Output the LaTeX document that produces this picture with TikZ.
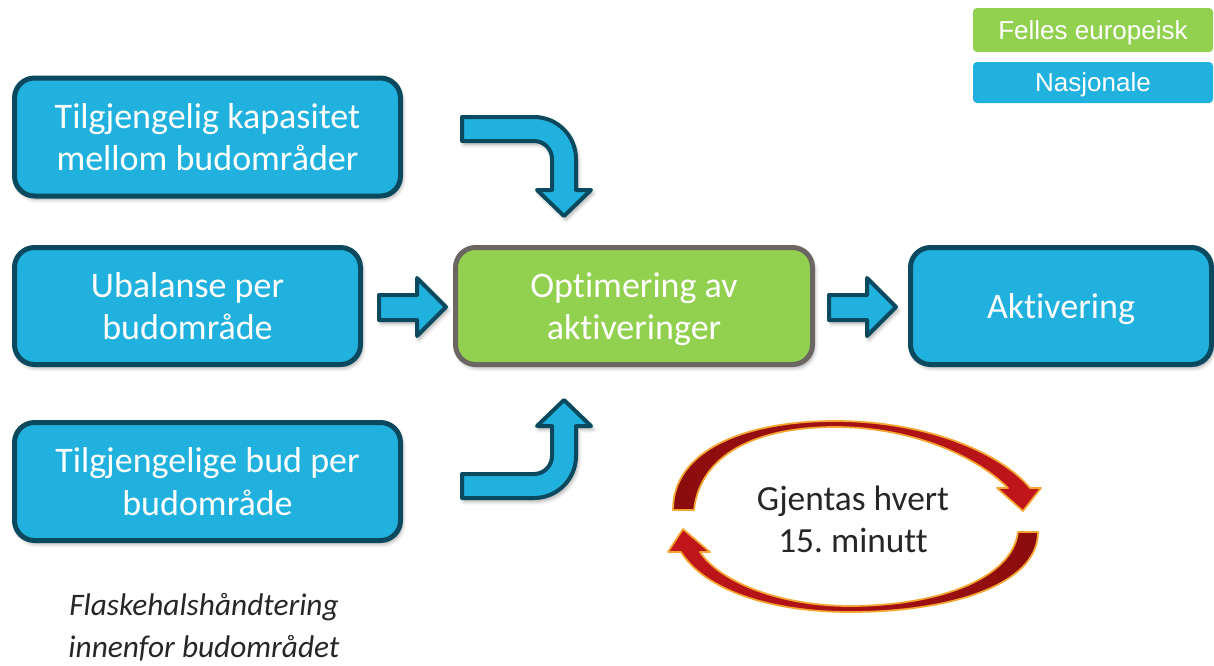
\documentclass[tikz,border=0pt]{standalone}
\usepackage{fontspec}
\setmainfont{Carlito}[Ligatures={NoCommon}]
\newfontfamily\legendfont{Liberation Sans}
\usetikzlibrary{shadows,shadows.blur}
\definecolor{boxblue}{HTML}{21B1DE}
\definecolor{boxedge}{HTML}{0B4A5E}
\definecolor{boxgreen}{HTML}{92D050}
\definecolor{greenedge}{HTML}{6B6661}
\definecolor{darkred}{HTML}{8A0C0C}
\definecolor{brightred}{HTML}{C2161B}
\definecolor{orangeedge}{HTML}{F6A531}
\definecolor{textdark}{HTML}{262626}
\newcommand\lstrut{\rule[-6.6pt]{0pt}{32pt}}
\frenchspacing
\begin{document}
\begin{tikzpicture}[x=0.75pt,y=-0.75pt,
  shadowed/.style={blur shadow={shadow xshift=1.5pt,shadow yshift=-2.5pt,shadow blur radius=3pt,shadow blur steps=6,shadow opacity=35}},
  boxfont/.style={font=\fontsize{27pt}{32pt}\selectfont},
  bluebox/.style={draw=boxedge, fill=boxblue, line width=3.75pt, rounded corners=15pt,
    text=white, align=center, boxfont, inner sep=0pt, shadowed},
  greenbox/.style={bluebox, draw=greenedge, fill=boxgreen},
  legendbox/.style={rounded corners=3pt, text=white, inner sep=0pt,
    font=\legendfont\fontsize{19.5pt}{22pt}\selectfont, minimum width=180pt,
    text height=16pt, text depth=2.5pt},
  blockarrow/.style={draw=boxedge, fill=boxblue, line width=3pt, line join=round, shadowed},
  cyclearrow/.style={draw=orangeedge, line width=1.3pt, line join=round}
]
\useasboundingbox (0,0) rectangle (1214,665);

% main boxes
\node[bluebox, minimum width=289.5pt, minimum height=88.5pt] (kap) at (207.5,137)
  {Tilgjengelig kapasitet\lstrut\\mellom budområder\lstrut};
\node[bluebox, minimum width=259.5pt, minimum height=87.75pt] (ubal) at (187.5,306)
  {Ubalanse per\lstrut\\budområde\lstrut};
\node[bluebox, minimum width=289.5pt, minimum height=88.5pt] (bud) at (207.5,481.5)
  {Tilgjengelige bud per\lstrut\\budområde\lstrut};
\node[greenbox, minimum width=267.75pt, minimum height=87.75pt] (opt) at (634,306)
  {Optimering av\lstrut\\aktiveringer\lstrut};
\node[bluebox, minimum width=225.75pt, minimum height=87.75pt] (akt) at (1061,306)
  {Aktivering\lstrut};

% legend
\node[legendbox, fill=boxgreen, minimum height=33pt] (leg1) at (1093,30) {Felles europeisk};
\node[legendbox, fill=boxblue, minimum height=30.75pt] (leg2) at (1093,82.5) {Nasjonale};

% straight block arrows
\path[blockarrow] (379,295) -- (417,295) -- (417,278) -- (446,307) -- (417,336)
  -- (417,320) -- (379,320) -- cycle;
\path[blockarrow] (829,295) -- (867,295) -- (867,278) -- (896,307) -- (867,336)
  -- (867,320) -- (829,320) -- cycle;

% bent block arrows
\path[blockarrow] (462,117) -- (534,117) arc[start angle=-90,end angle=0,radius=42]
  -- (576,190) -- (591,190) -- (564,216) -- (537,190) -- (552,190) -- (552,159)
  arc[start angle=0,end angle=-90,radius=18] -- (462,141) -- cycle;
\path[blockarrow] (462,474) -- (534,474) arc[start angle=90,end angle=0,radius=18]
  -- (552,426) -- (537,426) -- (564,400) -- (591,426) -- (576,426) -- (576,456)
  arc[start angle=0,end angle=90,radius=42] -- (462,498) -- cycle;

% cycle arrows
\shade[cyclearrow, left color=darkred, right color=brightred]
  (673,510) .. controls (673,450) and (745,421) .. (835,421)
  .. controls (925,421) and (1000,452) .. (1030,488) -- (1041,488) -- (1023,511)
  -- (997,488) -- (1008,488) .. controls (975,455) and (910,427) .. (835,427)
  .. controls (755,427) and (700,455) .. (694,510) -- cycle;
\shade[cyclearrow, left color=brightred, right color=darkred]
  (1038,532) .. controls (1038,585) and (950,612) .. (850,612)
  .. controls (770,612) and (705,590) .. (681,552) -- (668,552) -- (683,529)
  -- (710,552) -- (700,552) .. controls (720,582) and (780,606) .. (850,606)
  .. controls (935,606) and (1012,580) .. (1018,532) -- cycle;

\node[font=\fontsize{26.5pt}{32pt}\selectfont, text=textdark, align=center, inner sep=0pt] (rep) at (853,519)
  {Gjentas hvert\lstrut\\15. minutt\lstrut};

\node[font=\itshape\fontsize{23.5pt}{31.5pt}\selectfont, text=textdark, align=center,
  inner sep=0pt] (flask) at (204,627) {Flaskehalshåndtering\\innenfor budområdet};
\end{tikzpicture}
\end{document}
